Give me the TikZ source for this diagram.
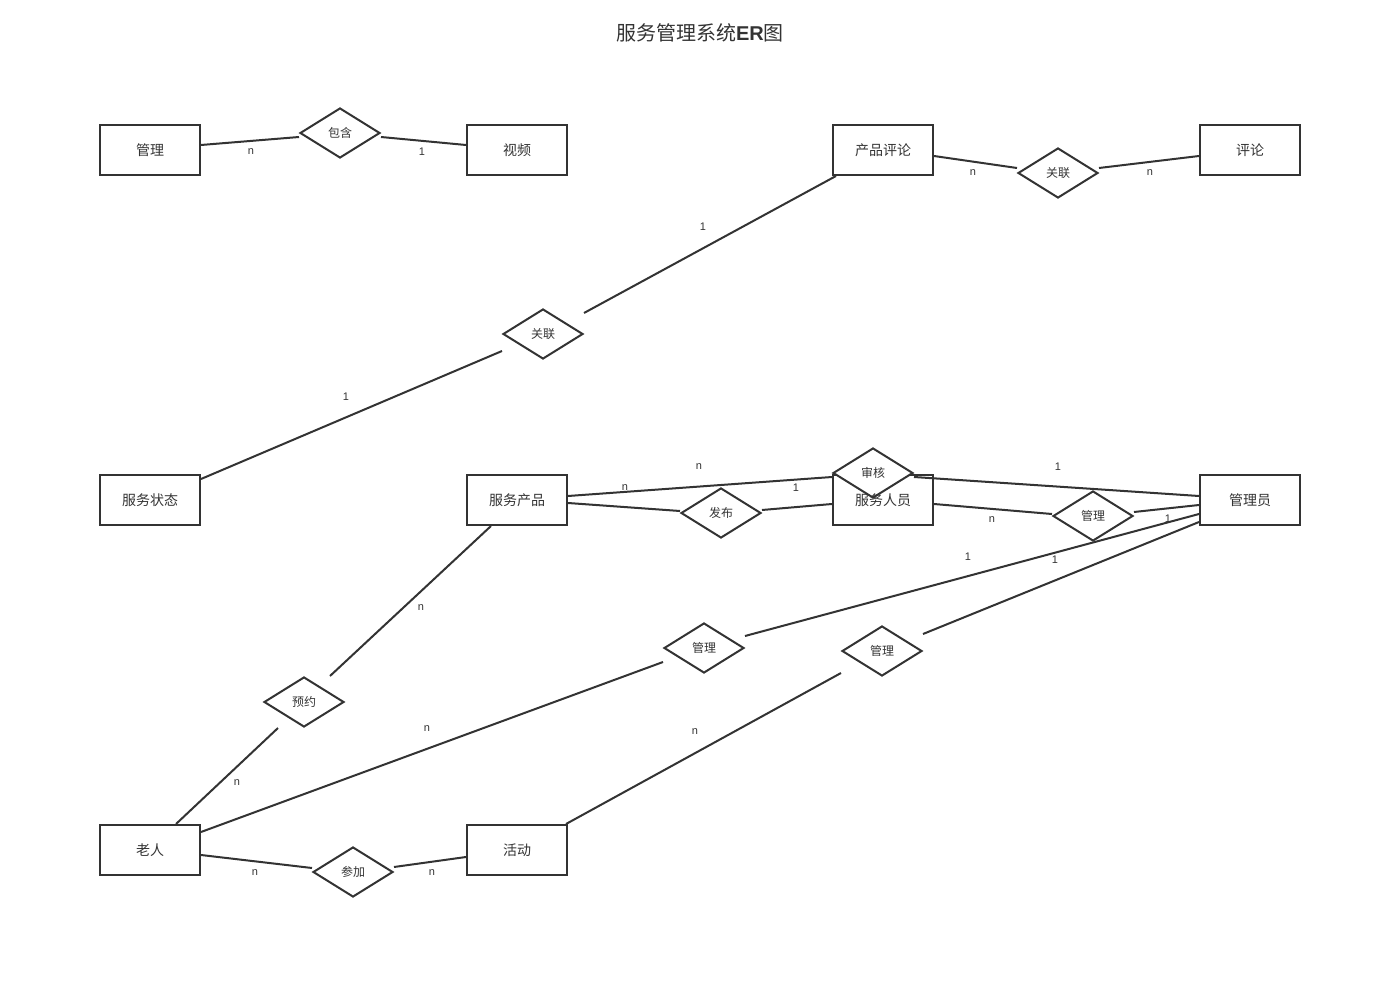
\documentclass[tikz,border=0pt]{standalone}
\usepackage{fontspec}
\setmainfont{Noto Sans CJK SC}
\newfontfamily\latinfont{Liberation Sans}
\usetikzlibrary{shapes.geometric}
\definecolor{ink}{HTML}{333333}
\tikzset{entity/.style={draw=ink, line width=2pt, minimum width=100pt, minimum height=50pt, inner sep=0pt, text=ink, font=\fontsize{14}{16}\selectfont},
  relation/.style={draw=ink, line width=2pt, diamond, aspect=1.6, minimum width=80pt, minimum height=50pt, inner sep=0pt, text=ink, font=\fontsize{12}{14}\selectfont},
  card/.style={text=ink, font=\latinfont\fontsize{11}{13}\selectfont, inner sep=0pt},
  link/.style={draw=ink, line width=2pt}}

\begin{document}
\begin{tikzpicture}[x=1pt, y=-1pt]
    \useasboundingbox (0,0) rectangle (1400,1000);
    % title
    \node[text=ink, font=\fontsize{20}{24}\selectfont] (title) at (700,33) {服务管理系统{\latinfont\bfseries ER}图};

    % entities
    \node[entity] (gl) at (150,150) {管理};
    \node[entity] (sp) at (517,150) {视频};
    \node[entity] (cppl) at (883,150) {产品评论};
    \node[entity] (pl) at (1250,150) {评论};
    \node[entity] (fwzt) at (150,500) {服务状态};
    \node[entity] (fwcp) at (517,500) {服务产品};
    \draw[link] (833,475) rectangle (933,525); % box of 服务人员, under 审核
    \node[entity] (gly) at (1250,500) {管理员};
    \node[entity] (lr) at (150,850) {老人};
    \node[entity] (hd) at (517,850) {活动};

    % relations
    \node[relation] (bh) at (340,133) {包含};
    \node[relation] (gl1) at (1058,173) {关联};
    \node[relation] (gl2) at (543,334) {关联};
    \node[relation, fill=white] (sh) at (873,473) {审核};
    \node[entity, draw=none] (fwry) at (883,500) {服务人员};
    \node[relation] (fb) at (721,513) {发布};
    \node[relation] (gl3) at (1093,516) {管理};
    \node[relation] (gl4) at (704,648) {管理};
    \node[relation] (gl5) at (882,651) {管理};
    \node[relation] (yy) at (304,702) {预约};
    \node[relation] (cj) at (353,872) {参加};

    % connectors
    \draw[link] ([yshift=5pt]gl.east) -- ([yshift=-4pt]bh.west);
    \draw[link] ([yshift=-4pt]bh.east) -- ([yshift=5pt]sp.west);
    \draw[link] ([yshift=-6pt]cppl.east) -- ([yshift=5pt]gl1.west);
    \draw[link] ([yshift=5pt]gl1.east) -- ([yshift=-6pt]pl.west);
    \draw[link] ([xshift=4pt]cppl.south west) -- ([yshift=21pt]gl2.east);
    \draw[link] ([yshift=-17pt]gl2.west) -- ([yshift=21pt]fwzt.east);
    \draw[link] ([yshift=4pt]fwcp.east) -- ([yshift=-4pt]sh.west);
    \draw[link] ([yshift=-4pt]sh.east) -- ([yshift=4pt]gly.west);
    \draw[link] ([yshift=-3pt]fwcp.east) -- ([yshift=2pt]fb.west);
    \draw[link] ([yshift=3pt]fb.east) -- ([yshift=-4pt]fwry.west);
    \draw[link] ([yshift=-4pt]fwry.east) -- ([yshift=2pt]gl3.west);
    \draw[link] ([yshift=4pt]gl3.east) -- ([yshift=-5pt]gly.west);
    \draw[link] ([yshift=-14pt]gly.west) -- ([yshift=12pt]gl4.east);
    \draw[link] ([yshift=-22pt]gly.west) -- ([yshift=17pt]gl5.east);
    \draw[link] ([yshift=-14pt]gl4.west) -- ([yshift=18pt]lr.east);
    \draw[link] ([yshift=-22pt]gl5.west) -- ([xshift=-2pt]hd.north east);
    \draw[link] ([xshift=-26pt]fwcp.south) -- ([xshift=26pt]yy.north);
    \draw[link] ([xshift=-26pt]yy.south) -- ([xshift=26pt]lr.north);
    \draw[link] ([yshift=-5pt]lr.east) -- ([yshift=4pt]cj.west);
    \draw[link] ([yshift=5pt]cj.east) -- ([yshift=-7pt]hd.west);

    % cardinalities
    \node[card] (c1) at (251,152) {n};
    \node[card] (c2) at (422,152) {1};
    \node[card] (c3) at (973,173) {n};
    \node[card] (c4) at (1150,173) {n};
    \node[card] (c5) at (703,227) {1};
    \node[card] (c6) at (346,397) {1};
    \node[card] (c7) at (699,467) {n};
    \node[card] (c8) at (625,488) {n};
    \node[card] (c9) at (796,488) {1};
    \node[card] (c10) at (1058,467) {1};
    \node[card] (c11) at (992,520) {n};
    \node[card] (c12) at (1168,519) {1};
    \node[card] (c13) at (968,557) {1};
    \node[card] (c14) at (1055,560) {1};
    \node[card] (c15) at (421,608) {n};
    \node[card] (c16) at (427,729) {n};
    \node[card] (c17) at (695,732) {n};
    \node[card] (c18) at (237,783) {n};
    \node[card] (c19) at (255,873) {n};
    \node[card] (c20) at (432,873) {n};
\end{tikzpicture}
\end{document}
